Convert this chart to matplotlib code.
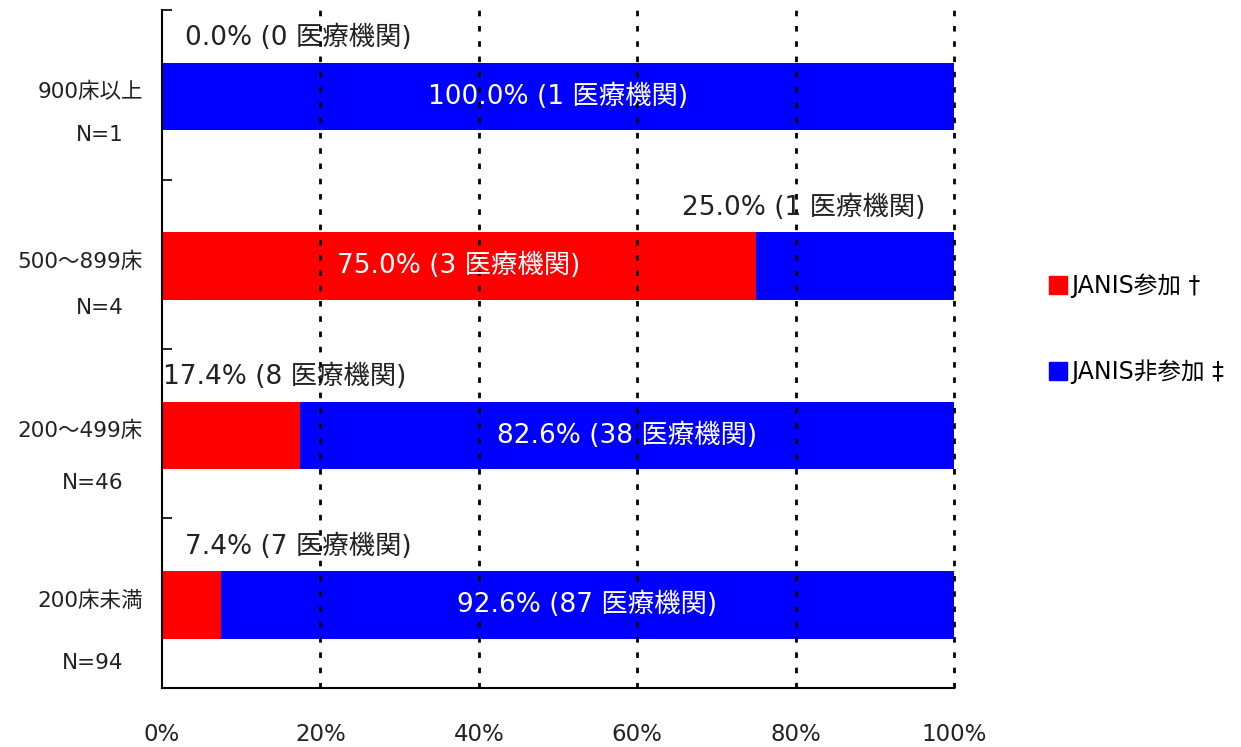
import matplotlib.pyplot as plt
from matplotlib.patches import Patch

plt.rcParams['font.family'] = ['DejaVu Sans', 'Noto Sans CJK JP']

categories = ['900床以上', '500～899床', '200～499床', '200床未満']
n_total = [1, 4, 46, 94]
janis_n = [0, 3, 8, 7]
non_janis_n = [1, 1, 38, 87]
janis_pct = [0.0, 75.0, 17.4, 7.4]
non_janis_pct = [100.0, 25.0, 82.6, 92.6]
xticks = [0, 20, 40, 60, 80, 100]

fig = plt.figure(figsize=(12.41, 7.47), dpi=100)
ax = fig.add_axes([0.1305, 0.079, 0.6382, 0.9076])

ypos = [i + 0.51 for i in range(len(categories))]
ax.barh(ypos, janis_pct, height=0.4, color='#ff0000', zorder=2)
ax.barh(ypos, non_janis_pct, left=janis_pct, height=0.4, color='#0000ff', zorder=2)

ax.set_xlim(0, 100)
ax.set_ylim(4, 0)
ax.set_xticks(xticks)
ax.set_xticklabels([f'{t}%' for t in xticks], fontsize=16.5, color='#222222')
ax.tick_params(axis='x', length=0, pad=25)
ax.set_yticks([0, 1, 2, 3, 4])
ax.set_yticklabels([])
ax.tick_params(axis='y', direction='in', length=7, width=1.2)
for s in ['top', 'right']:
    ax.spines[s].set_visible(False)
ax.spines['left'].set_linewidth(1.5)
ax.spines['bottom'].set_linewidth(1.5)
for t in xticks[1:]:
    ax.axvline(t, color='black', linestyle=(0, (2, 3.5)), linewidth=2,
               zorder=3, clip_on=False)

fs = 19
# labels inside the bars
for i, y in enumerate(ypos):
    if janis_pct[i] >= 50:
        ax.text(janis_pct[i] / 2, y, f'{janis_pct[i]:.1f}% ({janis_n[i]} 医療機関)',
                color='white', ha='center', va='center', fontsize=fs, zorder=4)
    else:
        ax.text(janis_pct[i] + non_janis_pct[i] / 2, y,
                f'{non_janis_pct[i]:.1f}% ({non_janis_n[i]} 医療機関)',
                color='white', ha='center', va='center', fontsize=fs, zorder=4)

# labels above the bars for the small segment
above = [(2.9, janis_pct[0], janis_n[0]), (65.7, non_janis_pct[1], non_janis_n[1]),
         (0.1, janis_pct[2], janis_n[2]), (2.9, janis_pct[3], janis_n[3])]
for i, (x, p, n) in enumerate(above):
    ax.text(x, ypos[i] - 0.345, f'{p:.1f}% ({n} 医療機関)', color='#222222',
            ha='left', va='center', fontsize=fs, zorder=4)

# category labels
n_off = [0.74, 0.76, 0.79, 0.85]
for i, c in enumerate(categories):
    ax.text(-2.4, i + 0.484, c, ha='right', va='center', fontsize=15.5,
            color='#222222', clip_on=False)
    ax.text(-4.8, i + n_off[i], f'N={n_total[i]}', ha='right', va='center',
            fontsize=15.5, color='#222222', clip_on=False)

handles = [Patch(color='#ff0000'), Patch(color='#0000ff')]
fig.legend(handles, ['JANIS参加 †', 'JANIS非参加 ‡'], loc='upper left',
           bbox_to_anchor=(0.828, 0.662), frameon=False, fontsize=17,
           handlelength=0.75, handleheight=0.75, handletextpad=0.2,
           labelspacing=2.6)

fig.savefig('out.png', dpi=100)
